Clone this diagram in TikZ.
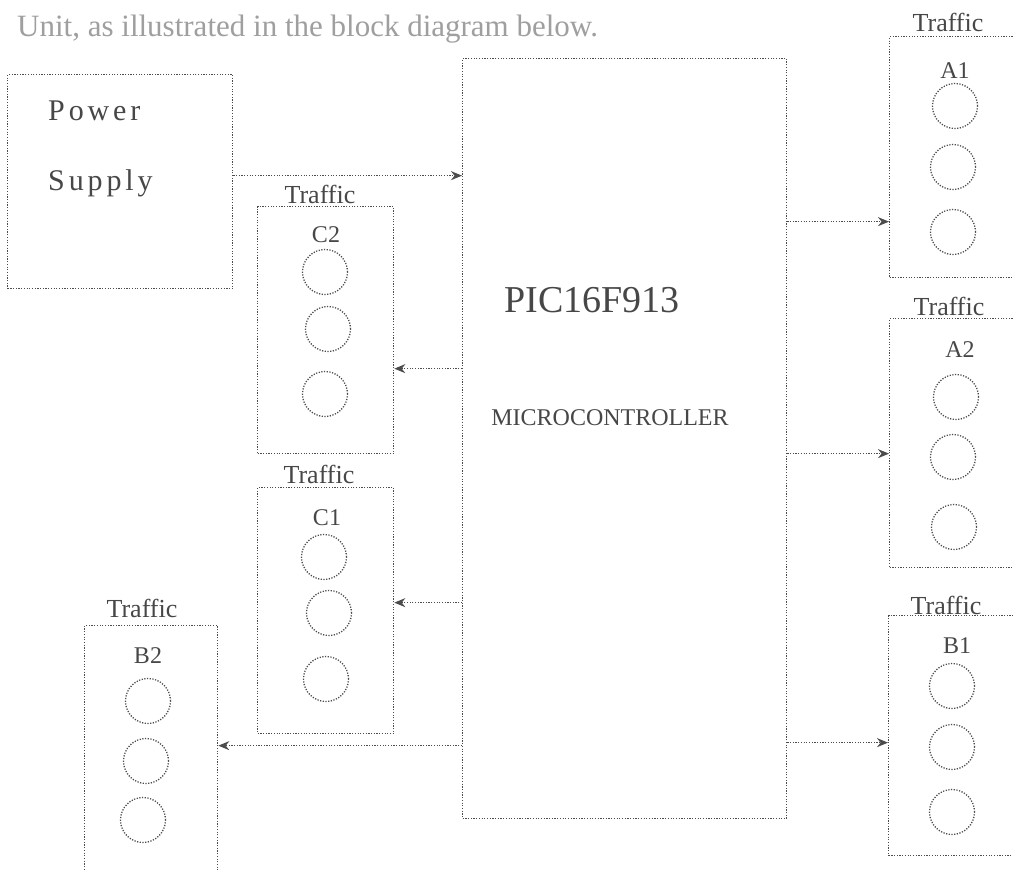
\documentclass[tikz,border=0pt]{standalone}
\usepackage{fontspec}
\setmainfont{Liberation Serif}
\newfontfamily\spacedserif{Liberation Serif}[LetterSpace=13]
\usetikzlibrary{arrows.meta}
\definecolor{linec}{gray}{0.3}
\definecolor{textc}{gray}{0.28}
\tikzset{
  dotline/.style={draw=linec, line width=1.3pt, dash pattern=on 1.2pt off 1.5pt},
  blockbox/.style={dotline, rectangle, inner sep=0pt, anchor=north west},
  lamp/.style={dotline, circle, minimum size=45pt, inner sep=0pt},
  arr/.style={dotline, -{Stealth[length=11pt,width=9pt,fill=linec]}},
  lbl/.style={text=textc, inner sep=0pt, anchor=base},
  traffic/.style={lbl, font=\fontsize{26}{30}\selectfont},
  letter/.style={lbl, font=\fontsize{24}{28}\selectfont},
}
\begin{document}
\begin{tikzpicture}[x=1pt,y=-1pt]
\useasboundingbox (0,0) rectangle (1013,870);
\clip (0,0) rectangle (1013,870);
\fill[white] (0,0) rectangle (1013,870);

% heading
\node[lbl, anchor=base west, font=\fontsize{31}{36}\selectfont, text=gray!75] (head) at (17,36) {Unit, as illustrated in the block diagram below.};

% power supply
\node[blockbox, minimum width=225pt, minimum height=214pt] (ps) at (7,74) {};
\node[lbl, anchor=base west, font=\fontsize{30}{34}\spacedserif] (pw) at (48,120) {Power};
\node[lbl, anchor=base west, font=\fontsize{30}{34}\spacedserif] (sp) at (48,190) {Supply};

% microcontroller
\node[blockbox, minimum width=324pt, minimum height=760pt] (mc) at (462,58) {};
\node[lbl, font=\fontsize{38}{42}\selectfont] (pic) at (592,312) {PIC16F913};
\node[lbl, font=\fontsize{24}{28}\selectfont] (micro) at (610,425) {MICROCONTROLLER};

% traffic C2
\node[blockbox, minimum width=136pt, minimum height=247pt] (c2) at (257,206) {};
\node[traffic] (c2t) at (320,203) {Traffic};
\node[letter] (c2l) at (326,242) {C2};
\node[lamp] (c2a) at (325,272) {};
\node[lamp] (c2b) at (328,329) {};
\node[lamp] (c2c) at (325,394) {};

% traffic C1
\node[blockbox, minimum width=136pt, minimum height=246pt] (c1) at (257,487) {};
\node[traffic] (c1t) at (319,483) {Traffic};
\node[letter] (c1l) at (327,525) {C1};
\node[lamp] (c1a) at (324,557) {};
\node[lamp] (c1b) at (329,613) {};
\node[lamp] (c1c) at (326,679) {};

% traffic B2
\node[blockbox, minimum width=133pt, minimum height=255pt] (b2) at (84,625) {};
\node[traffic] (b2t) at (142,617) {Traffic};
\node[letter] (b2l) at (148,663) {B2};
\node[lamp] (b2a) at (148,701) {};
\node[lamp] (b2b) at (146,761) {};
\node[lamp] (b2c) at (143,820) {};

% traffic A1
\node[blockbox, minimum width=130pt, minimum height=241pt] (a1) at (889,36) {};
\node[traffic] (a1t) at (948,31) {Traffic};
\node[letter] (a1l) at (955,78) {A1};
\node[lamp] (a1a) at (955,106) {};
\node[lamp] (a1b) at (953,167) {};
\node[lamp] (a1c) at (953,232) {};

% traffic A2
\node[blockbox, minimum width=130pt, minimum height=249pt] (a2) at (889,318) {};
\node[traffic] (a2t) at (949,315) {Traffic};
\node[letter] (a2l) at (960,357) {A2};
\node[lamp] (a2a) at (956,397) {};
\node[lamp] (a2b) at (953,457) {};
\node[lamp] (a2c) at (954,527) {};

% traffic B1
\node[blockbox, minimum width=130pt, minimum height=240pt] (b1) at (888,615) {};
\node[traffic] (b1t) at (946,614) {Traffic};
\node[letter] (b1l) at (957,653) {B1};
\node[lamp] (b1a) at (952,686) {};
\node[lamp] (b1b) at (952,747) {};
\node[lamp] (b1c) at (952,812) {};

% connector end points
\coordinate (psout) at ([yshift=6pt]ps.east);
\coordinate (c2in) at ([yshift=-38.5pt]c2.east);
\coordinate (c1in) at ([yshift=8pt]c1.east);
\coordinate (b2in) at ([yshift=7.5pt]b2.east);
\coordinate (a1in) at ([yshift=-64.5pt]a1.west);
\coordinate (a2in) at ([yshift=-10.5pt]a2.west);
\coordinate (b1in) at ([yshift=-7pt]b1.west);

% connectors
\draw[arr] (psout) -- (psout -| mc.west);
\draw[arr] (c2in -| mc.west) -- (c2in);
\draw[arr] (c1in -| mc.west) -- (c1in);
\draw[arr] (b2in -| mc.west) -- (b2in);
\draw[arr] (a1in -| mc.east) -- (a1in);
\draw[arr] (a2in -| mc.east) -- (a2in);
\draw[arr] (b1in -| mc.east) -- (b1in);
\end{tikzpicture}
\end{document}
